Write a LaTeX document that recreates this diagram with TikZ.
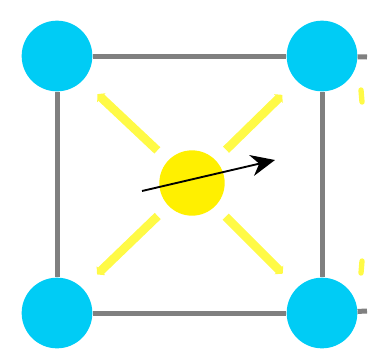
\documentclass[tikz,border=0pt]{standalone}
\usetikzlibrary{arrows.meta}
\definecolor{cyanatom}{RGB}{0,204,245}
\definecolor{yelatom}{RGB}{255,240,0}
\definecolor{yelhop}{RGB}{255,250,70}
\begin{document}
\begin{tikzpicture}[x=0.75pt, y=-0.75pt,
		atom/.style = {circle, fill=cyanatom, minimum size=53pt, inner sep=0pt},
		mid/.style  = {circle, fill=yelatom, minimum size=49pt, inner sep=0pt},
		bond/.style = {draw=black!50, line width=3.75pt},
		hop/.style  = {-{Triangle[length=4pt,width=9pt]}, draw=yelhop, line width=6.5pt, shorten <=11pt, shorten >=15pt},
		bit/.style  = {draw=yelhop, line width=4pt, line cap=round},
		vel/.style  = {-{Stealth[length=18pt,width=16pt]}, line width=1.4pt}
		]
		\useasboundingbox (0,0) rectangle (377,354);
		
		% corner sites and the hopping atom
		\node[atom]	(c1)	at	(57, 56)	{};
		\node[atom]	(c2)	at	(322, 56)	{};
		\node[atom]	(c3)	at	(57, 313)	{};
		\node[atom]	(c4)	at	(322, 313)	{};
		\node[mid]	(m)	at	(192, 183)	{};
		
		\coordinate	(e1)	at	(367, 57);
		\coordinate	(e2)	at	(367, 311);
		\draw[bond]	(c1)	--	(c2);
		\draw[bond]	(c3)	--	(c4);
		\draw[bond]	(c1)	--	(c3);
		\draw[bond]	(c2)	--	(c4);
		\draw[bond]	(c2)	--	(e1);
		\draw[bond]	(c4)	--	(e2);
		
		% jumps to the corners
		\draw[hop]	(m)	--	(c1);
		\draw[hop]	(m)	--	(c2);
		\draw[hop]	(m)	--	(c3);
		\draw[hop]	(m)	--	(c4);
		
		% pieces from the next cell
		\coordinate	(b1)	at	(361, 90);
		\coordinate	(b2)	at	(362, 102);
		\coordinate	(b3)	at	(362, 261);
		\coordinate	(b4)	at	(361, 273);
		\draw[bit]	(b1)	--	(b2);
		\draw[bit]	(b3)	--	(b4);
		
		% velocity
		\coordinate	(v0)	at	(142, 191);
		\coordinate	(v1)	at	(275, 160);
		\draw[vel]	(v0)	--	(v1);
\end{tikzpicture}
\end{document}
